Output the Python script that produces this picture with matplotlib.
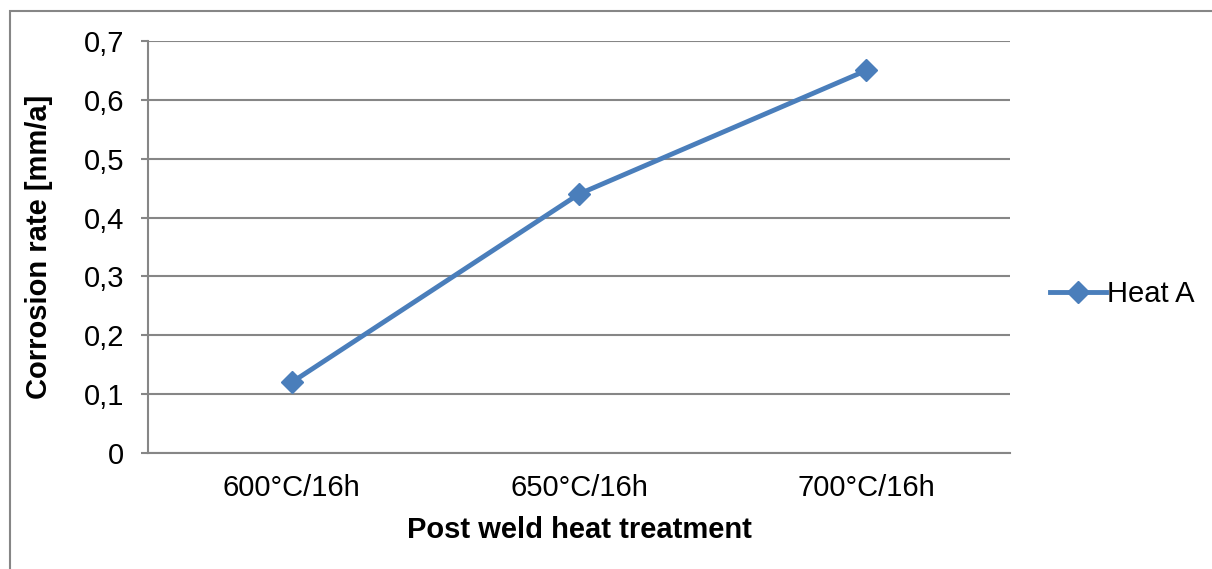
import matplotlib
matplotlib.use("Agg")
from matplotlib import pyplot as plt
from matplotlib.patches import Rectangle
from matplotlib.ticker import FuncFormatter

categories = ["600°C/16h", "650°C/16h", "700°C/16h"]
heat_a = [0.12, 0.44, 0.65]
y_ticks = [0, 0.1, 0.2, 0.3, 0.4, 0.5, 0.6, 0.7]

plt.rcParams['font.family'] = ['Liberation Sans', 'DejaVu Sans']

W, H = 1212, 569
fig = plt.figure(figsize=(W / 100, H / 100), dpi=100)
ax = fig.add_axes([148 / W, 1 - 453 / H, (1010 - 148) / W, (453 - 41) / H])

grid_col = "#868686"
line_col = "#4A7EBB"
fs = 21

x = list(range(len(categories)))
ax.plot(x, heat_a, color=line_col, lw=3.5, marker="D", markersize=11,
        markeredgecolor=line_col, markerfacecolor=line_col, label="Heat A",
        zorder=3)

ax.set_xlim(-0.5, len(categories) - 0.5)
ax.set_ylim(0, 0.7)
ax.set_yticks(y_ticks)
ax.yaxis.set_major_formatter(FuncFormatter(lambda v, p: ("%g" % round(v, 1)).replace(".", ",")))
ax.set_xticks(x)
ax.set_xticklabels(categories)

ax.grid(axis="y", color=grid_col, lw=1.5)
ax.set_axisbelow(True)
for s in ["top", "right"]:
    ax.spines[s].set_visible(False)
for s in ["left", "bottom"]:
    ax.spines[s].set_color(grid_col)
    ax.spines[s].set_linewidth(1.5)

ax.tick_params(axis="y", length=5, width=1.5, color=grid_col, labelsize=fs, pad=12)
ax.tick_params(axis="x", length=0, labelsize=fs, pad=15)

ax.set_xlabel("Post weld heat treatment", fontsize=fs, fontweight="bold", labelpad=10)
ax.set_ylabel("Corrosion rate [mm/a]", fontsize=fs, fontweight="bold", labelpad=22)

ax.legend(loc="center left", bbox_to_anchor=(1.033, 0.385), frameon=False,
          fontsize=fs, handlelength=1.9, handletextpad=0.05, borderaxespad=0)

# chart border (left and top edges visible, the rest runs off the image)
fig.patches.append(Rectangle((10 / W, -0.1), 1.2, 1 - 11 / H + 0.1,
                             transform=fig.transFigure, fill=False,
                             edgecolor=grid_col, lw=1.5))

fig.savefig("out.png", dpi=100, facecolor="white")
